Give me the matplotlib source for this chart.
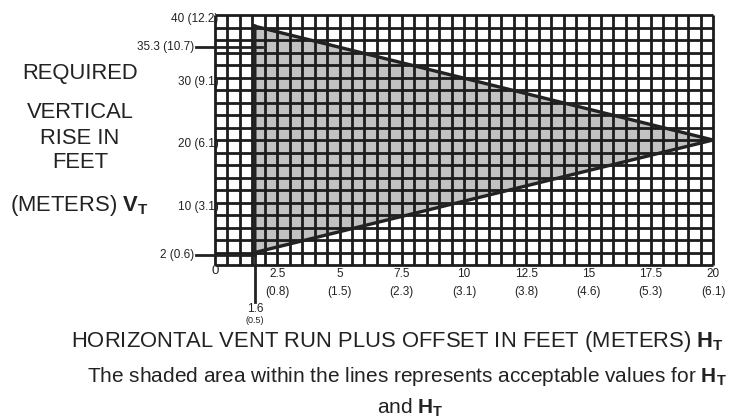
import matplotlib
matplotlib.use("Agg")
import matplotlib.pyplot as plt
import numpy as np

plt.rcParams['font.family'] = ['Liberation Sans', 'DejaVu Sans']
plt.rcParams['mathtext.fontset'] = 'custom'
plt.rcParams['mathtext.rm'] = 'Liberation Sans'
plt.rcParams['mathtext.bf'] = 'Liberation Sans:bold'
plt.rcParams['mathtext.it'] = 'Liberation Sans:italic'

# ---- data ----
x_ticks = [2.5, 5, 7.5, 10, 12.5, 15, 17.5, 20]
x_ticks_m = ["(0.8)", "(1.5)", "(2.3)", "(3.1)", "(3.8)", "(4.6)", "(5.3)", "(6.1)"]
y_ticks = [40, 30, 20, 10]
y_labels = ["40 (12.2)", "30 (9.1)", "20 (6.1)", "10 (3.1)"]
tri_x = [1.6, 1.6, 20]
tri_y = [38.2, 2, 20]
min_run = 1.6
min_run_lbl = ("1.6", "(0.5)")
rise_marks = [35.3, 2]
rise_lbls = ["35.3 (10.7)", "2 (0.6)"]
x_max, y_max = 20, 40
x_step, y_step = 0.5, 2

W, H = 738, 420
fig = plt.figure(figsize=(W / 100, H / 100), dpi=100)
L, R, T, B = 215, 713, 15, 265
ax = fig.add_axes([L / W, 1 - B / H, (R - L) / W, (B - T) / H])
ax.set_xlim(0, x_max)
ax.set_ylim(0, y_max)
ax.set_axis_off()
ax.patch.set_alpha(0)

grid_c = '#1c1c1c'
# shaded triangle
ax.fill(tri_x, tri_y, color='#c2c2c2', zorder=1, lw=0)
# grid
xs = np.arange(0, x_max + 1e-9, x_step)
ys = np.arange(0, y_max + 1e-9, y_step)
ax.vlines(xs, 0, y_max, colors=grid_c, lw=2.0, zorder=2, clip_on=False)
ax.hlines(ys, 0, x_max, colors=grid_c, lw=2.0, zorder=2, clip_on=False)
# triangle outline
ax.plot(tri_x + [tri_x[0]], tri_y + [tri_y[0]], color='#222222', lw=2.4,
        zorder=3, solid_joinstyle='miter', clip_on=False)

# y tick labels (drawn under the grid)
for v, s in zip(y_ticks, y_labels):
    ax.text(0.15, v - 0.7, s, ha='right', va='center', fontsize=8.5,
            color='#222222', zorder=1.5, clip_on=False)

# special rise labels with leaders
for v, s, x_end in zip(rise_marks, rise_lbls, [min_run + 0.3, min_run]):
    ax.text(-0.85, v - 0.4, s, ha='right', va='center', fontsize=8.5,
            color='#222222', clip_on=False)
    ax.plot([-0.75, x_end], [v - 0.4, v - 0.4], color='#222222', lw=2.0,
            clip_on=False, zorder=3)

# x tick labels
ax.text(0, -1.0, "0", ha='center', va='center', fontsize=9.5, color='#222222', clip_on=False)
for v, m in zip(x_ticks, x_ticks_m):
    ax.text(v, -1.4, f"{v:g}", ha='center', va='center', fontsize=8.5,
            color='#222222', clip_on=False)
    ax.text(v, -4.3, m, ha='center', va='center', fontsize=8.5,
            color='#222222', clip_on=False)

# minimum run leader
ax.plot([min_run, min_run], [tri_y[1], -5.9], color='#222222', lw=2.0,
        clip_on=False, zorder=3)
ax.text(min_run, -7.05, min_run_lbl[0], ha='center', va='center', fontsize=8.5,
        color='#222222', clip_on=False)
ax.text(min_run, -8.85, min_run_lbl[1], ha='center', va='center', fontsize=6.5,
        color='#222222', clip_on=False)

def ft(x, y, s, **kw):
    fig.text(x / W, 1 - y / H, s, ha='center', va='center', color='#222222', **kw)

fs = 15.8
ft(80, 73, "REQUIRED", fontsize=fs)
ft(80, 112, "VERTICAL", fontsize=fs)
ft(80, 138, "RISE IN", fontsize=fs)
ft(80, 162, "FEET", fontsize=fs)
ft(79, 205, r"(METERS) $\mathbf{V}_{\mathbf{T}}$", fontsize=fs)

ft(398, 342, r"HORIZONTAL VENT RUN PLUS OFFSET IN FEET (METERS) $\mathbf{H}_{\mathbf{T}}$", fontsize=fs)
ft(407, 377, r"The shaded area within the lines represents acceptable values for $\mathbf{H}_{\mathbf{T}}$", fontsize=15)
ft(410, 408, r"and $\mathbf{H}_{\mathbf{T}}$", fontsize=15)

fig.savefig("out.png", dpi=100)
